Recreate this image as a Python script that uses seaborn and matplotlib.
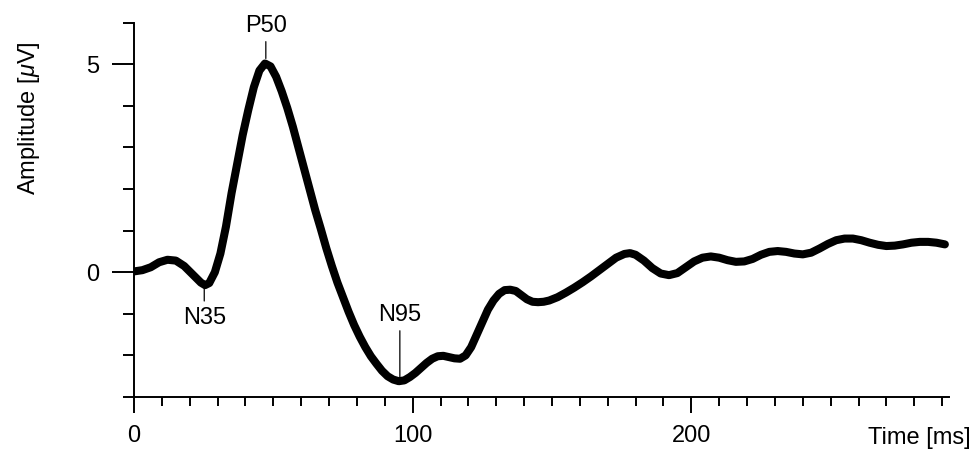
import matplotlib
matplotlib.use('Agg')
import matplotlib.pyplot as plt
import seaborn as sns
import pandas as pd
import numpy as np

# Valores (tiempo en ms, amplitud en µV)
tiempo_ms = [0, 3, 6, 9, 12, 15, 18, 21, 24, 25.5, 27, 29, 31, 33, 35, 37, 39, 41, 43, 45,
             47, 49, 51, 53, 55, 57, 59, 61, 63, 65, 67, 69, 71, 73, 75, 77, 79, 81, 83, 85,
             87, 89, 91, 93, 95, 97, 99, 101, 103, 105, 107, 109, 111, 113, 115, 117, 119, 121, 123, 125,
             127, 129, 131, 133, 135, 137, 139, 141, 143, 145, 147, 149, 152, 155, 158, 161, 164, 167, 170, 173,
             176, 178, 180, 183, 186, 189, 192, 195, 198, 201, 204, 207, 210, 213, 216, 219, 222, 225, 228, 231,
             234, 237, 240, 243, 246, 249, 252, 255, 258, 261, 264, 267, 270, 273, 276, 279, 282, 285, 288, 291]
amplitud_uv = [0.02, 0.05, 0.12, 0.24, 0.30, 0.28, 0.15, -0.05, -0.25, -0.31, -0.26, 0.0, 0.45, 1.1, 1.9, 2.6, 3.3, 3.9, 4.45, 4.85,
               5.02, 4.95, 4.7, 4.35, 3.95, 3.5, 3.0, 2.5, 2.0, 1.5, 1.05, 0.58, 0.15, -0.25, -0.6, -0.95, -1.27, -1.55, -1.8, -2.02,
               -2.2, -2.37, -2.5, -2.58, -2.62, -2.6, -2.52, -2.42, -2.3, -2.18, -2.08, -2.02, -2.01, -2.04, -2.07, -2.08, -2.0, -1.8, -1.5, -1.2,
               -0.9, -0.68, -0.52, -0.43, -0.42, -0.45, -0.55, -0.65, -0.71, -0.72, -0.71, -0.68, -0.6, -0.49, -0.37, -0.24, -0.1, 0.05, 0.2, 0.35,
               0.44, 0.46, 0.42, 0.28, 0.1, -0.03, -0.07, -0.02, 0.12, 0.26, 0.35, 0.38, 0.35, 0.29, 0.25, 0.26, 0.32, 0.42, 0.49, 0.51,
               0.49, 0.45, 0.43, 0.47, 0.57, 0.68, 0.77, 0.81, 0.81, 0.77, 0.71, 0.66, 0.63, 0.64, 0.67, 0.71, 0.73, 0.73, 0.71, 0.67]

# Componentes marcados
picos_nombre = ['N35', 'P50', 'N95']
picos_tiempo = [25.2, 47.3, 95.4]
picos_amplitud = [-0.30, 5.02, -2.62]

ticks_x = [0, 100, 200]
ticks_y = [0, 5]

df = pd.DataFrame({'Tiempo': tiempo_ms, 'Amplitud': amplitud_uv})

sns.set_theme(style='ticks')
plt.rcParams['font.family'] = ['Liberation Sans', 'DejaVu Sans']
plt.rcParams['mathtext.fontset'] = 'custom'
plt.rcParams['mathtext.rm'] = 'Liberation Sans'
plt.rcParams['mathtext.it'] = 'Liberation Sans:italic'
plt.rcParams['text.color'] = 'black'
plt.rcParams['axes.labelcolor'] = 'black'
plt.rcParams['xtick.labelcolor'] = 'black'
plt.rcParams['ytick.labelcolor'] = 'black'

fig = plt.figure(figsize=(9.74, 4.49), dpi=100)
ax = fig.add_axes([0.1376, 0.1158, 0.8368, 0.8336])

sns.lineplot(data=df, x='Tiempo', y='Amplitud', ax=ax, color='black', linewidth=5.8,
             solid_joinstyle='round', solid_capstyle='round', sort=False)

ax.set_xlim(0, 292.5)
ax.set_ylim(-3, 6)
sns.despine(ax=ax)
for s in ['left', 'bottom']:
    ax.spines[s].set_linewidth(1.4)
    ax.spines[s].set_color('black')

fs = 17
ax.set_xticks(ticks_x)
ax.set_xticks(np.arange(0, 291, 10), minor=True)
ax.set_yticks(ticks_y)
ax.set_yticks(np.arange(-3, 7, 1), minor=True)
ax.tick_params(axis='x', which='major', length=11.5, width=1.4, pad=9, labelsize=fs,
               color='black', labelcolor='black')
ax.tick_params(axis='x', which='minor', length=6.5, width=1.4, color='black')
ax.tick_params(axis='y', which='major', length=16, width=1.4, pad=9, labelsize=fs,
               color='black', labelcolor='black')
ax.tick_params(axis='y', which='minor', length=8, width=1.4, color='black')

ax.set_ylabel('Amplitude [$\\mu$V]', fontsize=fs, color='black')
ax.yaxis.set_label_coords(-0.113, 0.745)
ax.set_xlabel('Time [ms]', fontsize=fs, color='black')
ax.xaxis.label.set_ha('right')
ax.xaxis.label.set_va('center')
ax.xaxis.set_label_coords(1.026, -0.109)

# Etiquetas de los picos
desplaz = {'N35': (-24, 2, 0), 'P50': (27, 1, 3.6), 'N95': (47.6, 1, 0)}
for nombre, t, a in zip(picos_nombre, picos_tiempo, picos_amplitud):
    dy, sA, sB = desplaz[nombre]
    ax.annotate(nombre, xy=(t, a), xytext=(0, dy), textcoords='offset points',
                ha='center', va='center', fontsize=fs, color='black',
                arrowprops=dict(arrowstyle='-', lw=0.9, color='black', shrinkA=sA, shrinkB=sB))

plt.savefig('out.png', dpi=100)
